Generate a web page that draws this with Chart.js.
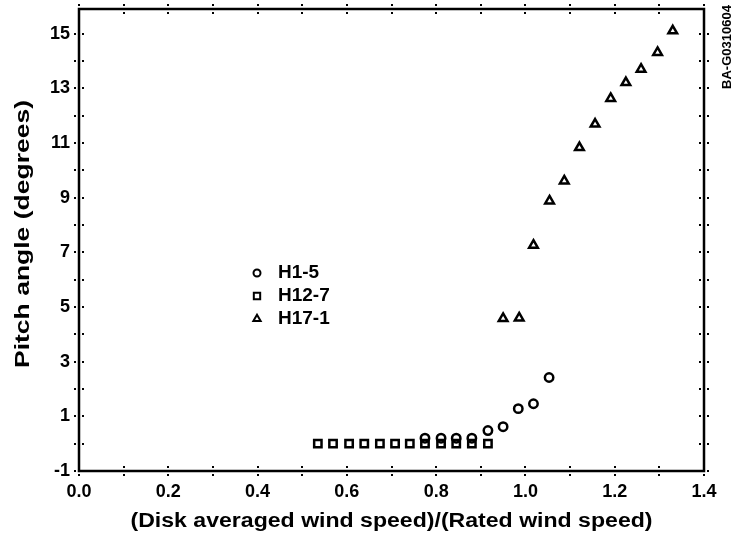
<!DOCTYPE html>
<html>
<head>
<meta charset="utf-8">
<script src="https://cdn.jsdelivr.net/npm/chart.js@4.4.1/dist/chart.umd.min.js"></script>
<style>
  html, body { margin: 0; padding: 0; background: #fff; }
  #wrap { width: 739px; height: 537px; position: relative; }
</style>
</head>
<body>
<div id="wrap"><canvas id="myChart"></canvas></div>
<script>
// pitch angle vs normalised wind speed, three turbine runs
var h15Speed = [0.775, 0.811, 0.845, 0.880, 0.916, 0.950, 0.984, 1.018, 1.053];
var h15Pitch = [0.2, 0.2, 0.2, 0.2, 0.48, 0.62, 1.28, 1.46, 2.42];

var h127Speed = [0.535, 0.569, 0.605, 0.639, 0.674, 0.708, 0.741, 0.775, 0.811, 0.845, 0.880, 0.916];
var h127Pitch = [0, 0, 0, 0, 0, 0, 0, 0, 0, 0, 0, 0];

var h171Speed = [0.950, 0.986, 1.018, 1.054, 1.087, 1.121, 1.156, 1.191, 1.225, 1.259, 1.296, 1.330];
var h171Pitch = [4.58, 4.60, 7.26, 8.88, 9.61, 10.83, 11.69, 12.63, 13.21, 13.70, 14.31, 15.10];

var seriesNames = ["H1-5", "H12-7", "H17-1"];
var xTickLabels = ["0.0", "0.2", "0.4", "0.6", "0.8", "1.0", "1.2", "1.4"];
var yTickLabels = ["-1", "1", "3", "5", "7", "9", "11", "13", "15"];
var xTitle = "(Disk averaged wind speed)/(Rated wind speed)";
var yTitle = "Pitch angle (degrees)";

var FONT = '"Liberation Sans", Arial, Helvetica, sans-serif';

function pts(xs, ys) {
  return xs.map(function (x, i) { return { x: x, y: ys[i] }; });
}

// box round the plot with little tick dots on both sides of every edge
var frameTicks = {
  id: "frameTicks",
  afterDraw: function (chart) {
    var ctx = chart.ctx, a = chart.chartArea;
    var xs = chart.scales.x, ys = chart.scales.y;
    ctx.save();
    ctx.strokeStyle = "#000";
    ctx.lineWidth = 2.5;
    ctx.strokeRect(a.left, a.top, a.right - a.left, a.bottom - a.top);
    ctx.fillStyle = "#000";
    xs.ticks.forEach(function (t) {
      var px = Math.round(xs.getPixelForValue(t.value));
      [a.top, a.bottom].forEach(function (py) {
        ctx.fillRect(px - 1, py - 5, 2, 2);
        ctx.fillRect(px - 1, py + 3, 2, 2);
      });
    });
    ys.ticks.forEach(function (t) {
      var py = Math.round(ys.getPixelForValue(t.value));
      [a.left, a.right].forEach(function (px) {
        ctx.fillRect(px - 5, py - 1, 2, 2);
        ctx.fillRect(px + 3, py - 1, 2, 2);
      });
    });
    ctx.restore();
  }
};

// wide axis titles: text is stretched sideways to the wanted length
function wideText(ctx, text, x, y, len, rot) {
  ctx.save();
  ctx.translate(x, y);
  ctx.rotate(rot);
  var w = ctx.measureText(text).width;
  ctx.scale(len / w, 1);
  ctx.fillText(text, 0, 0);
  ctx.restore();
}

var axisTitles = {
  id: "axisTitles",
  afterDraw: function (chart) {
    var ctx = chart.ctx, a = chart.chartArea;
    ctx.save();
    ctx.fillStyle = "#000";
    ctx.font = "bold 20px " + FONT;
    ctx.textAlign = "center";
    ctx.textBaseline = "middle";
    wideText(ctx, xTitle, (a.left + a.right) / 2, 521, 522, 0);
    wideText(ctx, yTitle, 23, 234, 268, -Math.PI / 2);
    ctx.restore();
  }
};

// legend sits inside the plot, left of the data
var insideLegend = {
  id: "insideLegend",
  afterDraw: function (chart) {
    var ctx = chart.ctx;
    var sizes = [3.5, 4.5, 4.2];
    ctx.save();
    chart.data.datasets.forEach(function (ds, i) {
      var y = 273 + i * 23;
      ctx.strokeStyle = "#000";
      ctx.fillStyle = "#fff";
      ctx.lineWidth = 2;
      Chart.helpers.drawPoint(ctx, { pointStyle: ds.pointStyle, radius: sizes[i], borderWidth: 2, rotation: 0 }, 257, y);
      ctx.fillStyle = "#000";
      ctx.font = "bold 19px " + FONT;
      ctx.textBaseline = "middle";
      ctx.textAlign = "left";
      ctx.fillText(ds.label, 278, y);
    });
    ctx.restore();
  }
};

var figureTag = {
  id: "figureTag",
  afterDraw: function (chart) {
    var ctx = chart.ctx;
    ctx.save();
    ctx.translate(727, 47);
    ctx.rotate(-Math.PI / 2);
    ctx.font = "bold 13px " + FONT;
    ctx.fillStyle = "#000";
    ctx.textAlign = "center";
    ctx.textBaseline = "middle";
    ctx.fillText("BA-G0310604", 0, 0);
    ctx.restore();
  }
};

var ctx = document.getElementById("myChart");
var myChart = new Chart(ctx, {
  type: "scatter",
  data: {
    datasets: [
      {
        label: seriesNames[0],
        data: pts(h15Speed, h15Pitch),
        pointStyle: "circle",
        pointRadius: 4.2,
        borderColor: "#000",
        backgroundColor: "rgba(255,255,255,0)",
        borderWidth: 2.5
      },
      {
        label: seriesNames[1],
        data: pts(h127Speed, h127Pitch),
        pointStyle: "rect",
        pointRadius: 5.2,
        borderColor: "#000",
        backgroundColor: "rgba(255,255,255,0)",
        borderWidth: 2.5
      },
      {
        label: seriesNames[2],
        data: pts(h171Speed, h171Pitch),
        pointStyle: "triangle",
        pointRadius: 5,
        borderColor: "#000",
        backgroundColor: "rgba(255,255,255,0)",
        borderWidth: 2.5
      }
    ]
  },
  options: {
    responsive: true,
    maintainAspectRatio: false,
    animation: false,
    layout: { padding: { top: 9, right: 35, left: 0, bottom: 0 } },
    plugins: {
      legend: { display: false },
      tooltip: { enabled: false }
    },
    scales: {
      x: {
        type: "linear",
        min: 0,
        max: 1.4,
        grid: { display: false, drawTicks: false, tickLength: 0 },
        border: { display: false },
        afterFit: function (s) {
          s.height = 66;
          s.paddingLeft = 0;
          s.paddingRight = 0;
        },
        ticks: {
          stepSize: 0.1,
          autoSkip: false,
          maxRotation: 0,
          padding: 10,
          color: "#000",
          font: { family: FONT, size: 18, weight: "bold" },
          callback: function (v) {
            var s = Number(v).toFixed(1);
            return xTickLabels.indexOf(s) >= 0 ? s : "";
          }
        }
      },
      y: {
        type: "linear",
        min: -1,
        max: 15.9,
        grid: { display: false, drawTicks: false, tickLength: 0 },
        border: { display: false },
        afterFit: function (s) {
          s.width = 79;
          s.paddingTop = 0;
          s.paddingBottom = 0;
        },
        ticks: {
          stepSize: 1,
          includeBounds: false,
          autoSkip: false,
          padding: 9,
          color: "#000",
          font: { family: FONT, size: 18, weight: "bold" },
          callback: function (v) {
            var r = Math.round(v);
            if (Math.abs(v - r) > 1e-6) return "";
            var s = String(r);
            return yTickLabels.indexOf(s) >= 0 ? s : "";
          }
        }
      }
    }
  },
  plugins: [frameTicks, axisTitles, insideLegend, figureTag]
});
</script>
</body>
</html>
